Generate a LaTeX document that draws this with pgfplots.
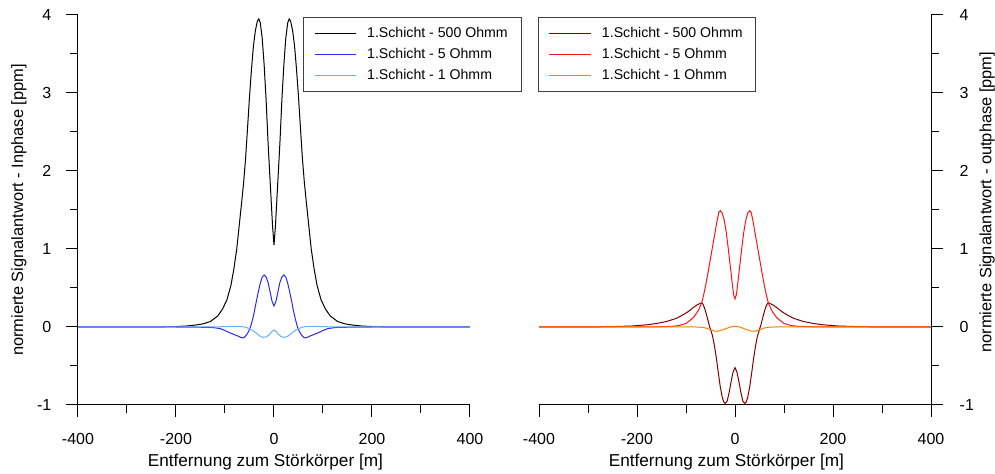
\documentclass[border=0pt]{standalone}
\usepackage{fontspec}
\setmainfont{Liberation Sans}
\usepackage{pgfplots}
\pgfplotsset{compat=1.18}
\definecolor{cblue}{RGB}{40,40,255}
\definecolor{clblue}{RGB}{100,175,255}
\definecolor{cdred}{RGB}{128,0,0}
\definecolor{cred}{RGB}{255,20,20}
\definecolor{corange}{RGB}{255,128,0}
\pgfplotsset{myaxis/.style={
  scale only axis, width=294pt, height=292.5pt,
  xmin=-400, xmax=400, ymin=-1, ymax=4,
  xtick={-400,-200,0,200,400}, ytick={-1,0,1,2,3,4},
  minor x tick num=1, minor y tick num=1,
  /pgf/number format/assume math mode=true,
  ticklabel style={font=\fontsize{12}{14}\selectfont},
  xticklabel style={yshift=-9pt},
  xlabel={Entfernung zum Störkörper [m]},
  xlabel style={at={(axis description cs:0.478,-0.146)}, anchor=center, font=\fontsize{12.9}{15}\selectfont},
  legend style={font=\fontsize{10.6}{12}\selectfont, draw=black!75, line width=0.75pt,
    anchor=north west, inner xsep=8pt, inner ysep=5.5pt, row sep=2.4pt,
    /tikz/every odd column/.append style={column sep=6pt}},
  legend cell align=left,
  legend image code/.code={\draw[#1] (0pt,0pt) -- (31pt,0pt);},
  every axis plot/.append style={line width=0.75pt, mark=none},
}}
\pgfplotsset{mylines/.style={
  axis line style={-, line width=0.75pt, draw=black},
  tick align=outside, major tick length=9pt, minor tick length=6pt,
  xtick style={line width=0.75pt, draw=black},
  ytick style={line width=0.75pt, draw=black},
}}
\begin{document}
\begin{tikzpicture}
\path[use as bounding box] (-58.5pt,-51.75pt) rectangle (687.75pt,303.75pt);
\begin{axis}[myaxis, at={(0pt,0pt)}, anchor=south west,
  axis x line=bottom, axis y line=left, mylines,
  yticklabel style={xshift=-7.5pt},
  ylabel={normierte Signalantwort - Inphase [ppm]},
  ylabel style={at={(axis description cs:-0.1505,0.5)}, anchor=center, font=\fontsize{12.3}{14}\selectfont},
  legend style={at={(rel axis cs:0.574,0.995)}}]
\addplot[black] coordinates {(-400,0) (-320,0) (-270,0.0005) (-230,0.002) (-200,0.006) (-180,0.012) (-160,0.025) (-145,0.04) (-130,0.07) (-115,0.14) (-105,0.23) (-96,0.35) (-88,0.53) (-82,0.74) (-76,1.0) (-70,1.36) (-66,1.6) (-62,1.85) (-58,2.16) (-54,2.55) (-50,2.95) (-46,3.3) (-42,3.6) (-38,3.8) (-34,3.92) (-31,3.95) (-28,3.9) (-24,3.7) (-20,3.35) (-16,2.9) (-12,2.35) (-9,2.0) (-6,1.65) (-3,1.3) (0,1.05)
 (3,1.3) (6,1.65) (9,2.0) (12,2.35) (16,2.9) (20,3.35) (24,3.7) (28,3.9) (31,3.95) (34,3.92) (38,3.8) (42,3.6) (46,3.3) (50,2.95) (54,2.55) (58,2.16) (62,1.85) (66,1.6) (70,1.36) (76,1.0) (82,0.74) (88,0.53) (96,0.35) (105,0.23) (115,0.14) (130,0.07) (145,0.04) (160,0.025) (180,0.012) (200,0.006) (230,0.002) (270,0.0005) (320,0) (400,0)};
\addlegendentry{1.Schicht - 500 Ohmm}
\addplot[cblue] coordinates {(-400,0) (-200,0) (-150,-0.003) (-125,-0.007) (-110,-0.02) (-100,-0.045) (-90,-0.075) (-80,-0.1) (-72,-0.12) (-67,-0.135) (-63,-0.14) (-60,-0.13) (-56,-0.1) (-52,-0.06) (-48,0.0) (-44,0.09) (-40,0.2) (-36,0.33) (-32,0.45) (-28,0.56) (-24,0.64) (-20,0.667) (-16,0.64) (-12,0.57) (-8,0.45) (-4,0.33) (0,0.27)
 (4,0.33) (8,0.45) (12,0.57) (16,0.64) (20,0.667) (24,0.64) (28,0.56) (32,0.45) (36,0.33) (40,0.2) (44,0.09) (48,0.0) (52,-0.06) (56,-0.1) (60,-0.13) (63,-0.14) (67,-0.135) (72,-0.12) (80,-0.1) (90,-0.075) (100,-0.045) (110,-0.02) (125,-0.007) (150,-0.003) (200,0) (400,0)};
\addlegendentry{1.Schicht - 5 Ohmm}
\addplot[clblue] coordinates {(-400,0) (-160,0) (-130,0.001) (-100,0.004) (-85,0.008) (-70,0.008) (-60,0.0) (-50,-0.02) (-42,-0.05) (-35,-0.085) (-28,-0.12) (-22,-0.133) (-15,-0.125) (-10,-0.1) (-5,-0.06) (0,-0.038)
 (5,-0.06) (10,-0.1) (15,-0.125) (22,-0.133) (28,-0.12) (35,-0.085) (42,-0.05) (50,-0.02) (60,0.0) (70,0.008) (85,0.008) (100,0.004) (130,0.001) (160,0) (400,0)};
\addlegendentry{1.Schicht - 1 Ohmm}
\end{axis}
\begin{axis}[myaxis, at={(345.75pt,0pt)}, anchor=south west,
  axis x line=bottom, axis y line=right, mylines,
  yticklabel style={xshift=9pt},
  ylabel={normierte Signalantwort - outphase [ppm]},
  ylabel style={at={(axis description cs:1.143,0.52)}, anchor=center, font=\fontsize{12.3}{14}\selectfont},
  legend style={at={(rel axis cs:-0.003,0.995)}}]
\addplot[cdred] coordinates {(-400,0) (-300,0.001) (-250,0.005) (-210,0.013) (-180,0.028) (-160,0.045) (-140,0.07) (-120,0.11) (-105,0.16) (-95,0.2) (-85,0.25) (-78,0.28) (-72,0.3) (-68,0.31) (-65,0.29) (-61,0.22) (-57,0.13) (-53,0.03) (-50,-0.03) (-46,-0.11) (-42,-0.24) (-38,-0.4) (-34,-0.59) (-30,-0.77) (-26,-0.9) (-23,-0.96) (-20,-0.98) (-16,-0.95) (-12,-0.84) (-8,-0.7) (-4,-0.58) (0,-0.52)
 (4,-0.58) (8,-0.7) (12,-0.84) (16,-0.95) (20,-0.98) (23,-0.96) (26,-0.9) (30,-0.77) (34,-0.59) (38,-0.4) (42,-0.24) (46,-0.11) (50,-0.03) (53,0.03) (57,0.13) (61,0.22) (65,0.29) (68,0.31) (72,0.3) (78,0.28) (85,0.25) (95,0.2) (105,0.16) (120,0.11) (140,0.07) (160,0.045) (180,0.028) (210,0.013) (250,0.005) (300,0.001) (400,0)};
\addlegendentry{1.Schicht - 500 Ohmm}
\addplot[cred] coordinates {(-400,0) (-200,0) (-160,0.002) (-130,0.008) (-115,0.018) (-100,0.045) (-85,0.12) (-75,0.21) (-68,0.31) (-64,0.41) (-60,0.53) (-55,0.7) (-50,0.88) (-45,1.06) (-41,1.2) (-37,1.35) (-33,1.47) (-30,1.49) (-26,1.46) (-22,1.37) (-18,1.22) (-14,1.02) (-10,0.8) (-6,0.58) (-3,0.42) (0,0.36)
 (3,0.42) (6,0.58) (10,0.8) (14,1.02) (18,1.22) (22,1.37) (26,1.46) (30,1.49) (33,1.47) (37,1.35) (41,1.2) (45,1.06) (50,0.88) (55,0.7) (60,0.53) (64,0.41) (68,0.31) (75,0.21) (85,0.12) (100,0.045) (115,0.018) (130,0.008) (160,0.002) (200,0) (400,0)};
\addlegendentry{1.Schicht - 5 Ohmm}
\addplot[corange] coordinates {(-400,0) (-80,0) (-70,-0.003) (-60,-0.012) (-52,-0.03) (-44,-0.048) (-38,-0.055) (-32,-0.05) (-24,-0.035) (-16,-0.015) (-8,0.003) (0,0.01)
 (8,0.003) (16,-0.015) (24,-0.035) (32,-0.05) (38,-0.055) (44,-0.048) (52,-0.03) (60,-0.012) (70,-0.003) (80,0) (400,0)};
\addlegendentry{1.Schicht - 1 Ohmm}
\end{axis}
\end{tikzpicture}
\end{document}
